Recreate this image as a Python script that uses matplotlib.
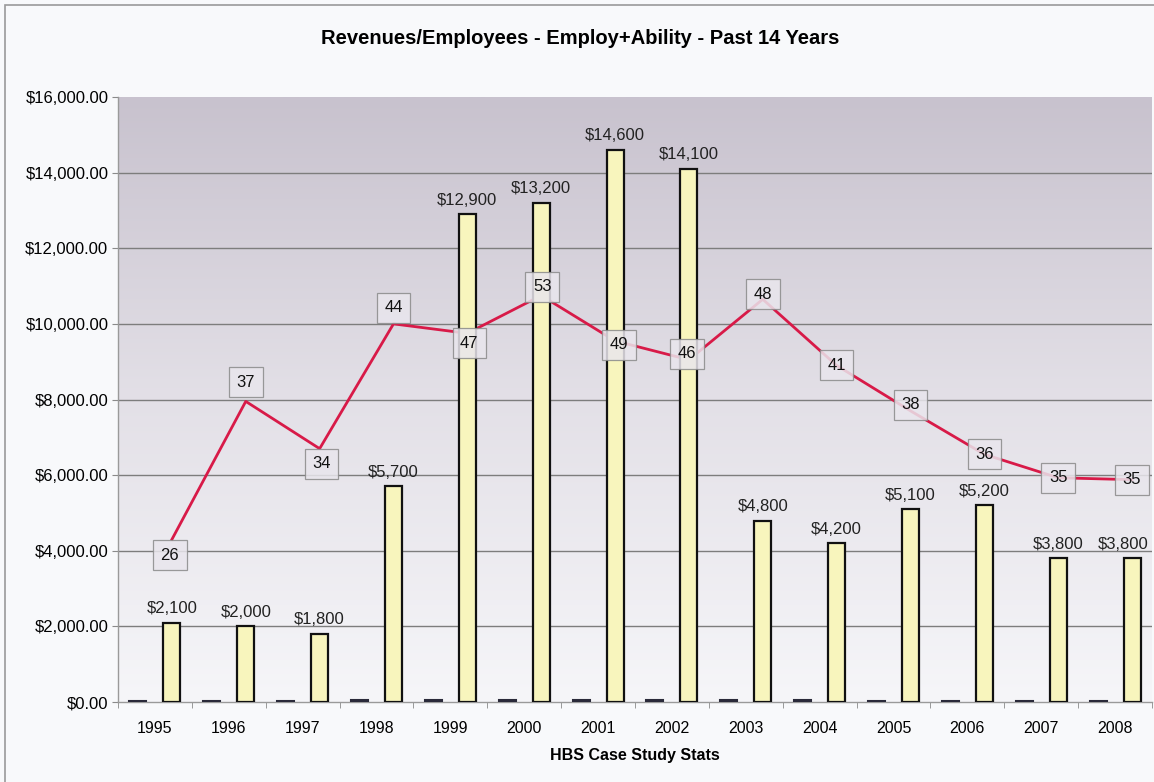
import numpy as np
import matplotlib.pyplot as plt
from matplotlib.patches import Rectangle
from matplotlib.colors import LinearSegmentedColormap

# chart data
years = ['1995', '1996', '1997', '1998', '1999', '2000', '2001',
         '2002', '2003', '2004', '2005', '2006', '2007', '2008']
revenue_per_emp = [2100, 2000, 1800, 5700, 12900, 13200, 14600,
                   14100, 4800, 4200, 5100, 5200, 3800, 3800]
employees = [26, 37, 34, 44, 47, 53, 49, 46, 48, 41, 38, 36, 35, 35]
# height of the red employee line, in axis units
line_level = [4300, 7950, 6700, 10000, 9750, 10750, 9550,
              9050, 10650, 8900, 7700, 6550, 5930, 5880]
y_ticks = [0, 2000, 4000, 6000, 8000, 10000, 12000, 14000, 16000]

# label nudges (pixels) for the boxed employee counts
label_dx = [-2, 0, 2, 0, 2, 1, 4, -2, 0, 0, 0, 0, 0, 0]
label_dy = [-16, 19, -15, 16, -10, 9, -4, 6, 5, 0, 6, 0, 0, 0]

plt.rcParams['font.family'] = ['Liberation Sans', 'DejaVu Sans']

fig = plt.figure(figsize=(11.54, 7.82), dpi=100, facecolor='#f8f9fb')
ax = fig.add_axes([118 / 1154, 80 / 782, 1034 / 1154, 605 / 782])

# outer frame of the chart area
fig.patches.append(Rectangle((5 / 1154, -0.02), 1.05, 1 - 5 / 782 + 0.02,
                             transform=fig.transFigure, fill=False,
                             edgecolor='#9a9a9a', linewidth=1.2))

x = np.arange(len(years))
w = 0.23

# gradient plot background
cmap = LinearSegmentedColormap.from_list('bg', ['#f6f6f9', '#e3e0e7', '#c8c2ce'])
grad = np.linspace(0, 1, 256).reshape(-1, 1)
ax.imshow(grad, aspect='auto', cmap=cmap, origin='lower',
          extent=(-0.5, len(years) - 0.5, 0, 16000), zorder=0)

for v in y_ticks[1:-1]:
    ax.axhline(v, color='#7d7d7d', linewidth=1, zorder=1)

# bars: employees (tiny, dark) and revenue per employee (yellow)
ax.bar(x - w, employees, width=w, color='#2a2a3a', edgecolor='#2a2a3a',
       linewidth=1.5, zorder=4)
ax.bar(x + w, revenue_per_emp, width=w, color='#f8f5bd', edgecolor='#111111',
       linewidth=1.6, zorder=4)

for i, (xi, v) in enumerate(zip(x, revenue_per_emp)):
    dx = -9 if i == len(years) - 1 else 0  # keep the last label inside the frame
    ax.annotate(f'${v:,}', (xi + w, v), xytext=(dx, 14), textcoords='offset pixels',
                ha='center', va='center', fontsize=12, color='#222222', zorder=6,
                annotation_clip=False)

# red employee line with boxed counts
ax.plot(x + w, line_level, color='#d81a48', linewidth=2, zorder=3)
for xi, lv, n, dx, dy in zip(x, line_level, employees, label_dx, label_dy):
    ax.annotate(str(n), (xi + w, lv), xytext=(dx, dy), textcoords='offset pixels',
                ha='center', va='center', fontsize=12, color='#111111', zorder=5,
                bbox=dict(boxstyle='square,pad=0.45', facecolor='#e9e6ed',
                          edgecolor='#8a8a8a', linewidth=0.9, alpha=0.85))

ax.set_xlim(-0.5, len(years) - 0.5)
ax.set_ylim(0, 16000)
ax.set_yticks(y_ticks)
ax.set_yticklabels([f'${v:,.2f}' for v in y_ticks])
ax.set_xticks(x)
ax.set_xticklabels(years)
ax.set_xticks(np.arange(len(years) + 1) - 0.5, minor=True)
ax.tick_params(axis='x', which='major', length=0, pad=14, labelsize=11.5)
ax.tick_params(axis='x', which='minor', length=4, color='#8a8a8a', direction='out')
ax.tick_params(axis='y', length=4, color='#8a8a8a', labelsize=12, pad=3)

for s in ['top', 'right']:
    ax.spines[s].set_visible(False)
for s in ['left', 'bottom']:
    ax.spines[s].set_color('#9a9a9a')
    ax.spines[s].set_linewidth(1)

ax.set_xlabel('HBS Case Study Stats', fontsize=11.5, fontweight='bold', labelpad=8)
fig.text(0.503, 1 - 38 / 782, 'Revenues/Employees - Employ+Ability - Past 14 Years',
         ha='center', va='center', fontsize=14.5, fontweight='bold')

fig.savefig('out.png', dpi=100, facecolor=fig.get_facecolor())
